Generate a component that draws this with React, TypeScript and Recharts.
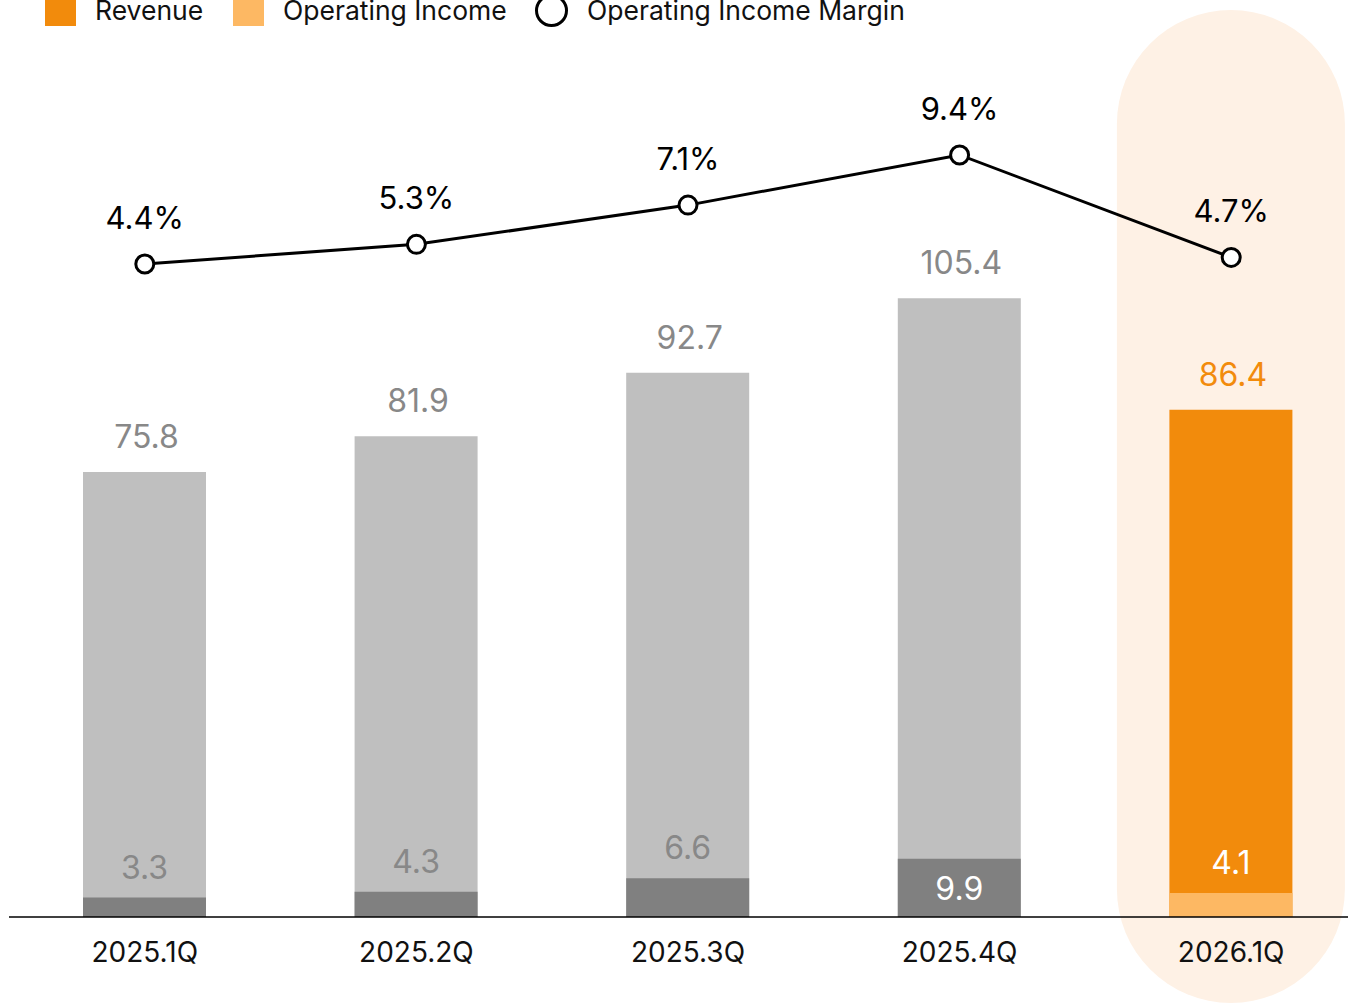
import React from 'react';
import { ComposedChart, Bar, Line, XAxis, YAxis, Cell, LabelList } from 'recharts';

const categories = ['2025.1Q', '2025.2Q', '2025.3Q', '2025.4Q', '2026.1Q'];
const revenue = [75.8, 81.9, 92.7, 105.4, 86.4];
const operatingIncome = [3.3, 4.3, 6.6, 9.9, 4.1];
const incomeMargin = [4.4, 5.3, 7.1, 9.4, 4.7];
const highlightIndex = 4;
const revenueMax = 140;
const marginDomain: [number, number] = [-25.55, 12.15];

const FONT = 'Inter, "Noto Sans", sans-serif';
const C_REV = '#BFBFBF';
const C_OI = '#808080';
const C_REV_HI = '#F28B0C';
const C_OI_HI = '#FDB863';
const C_BG_HI = '#FEF1E5';
const C_LABEL = '#888888';

const data = categories.map((c, i) => ({
  name: c,
  highlight: i === highlightIndex ? revenueMax : 0,
  revenue: revenue[i],
  oi: operatingIncome[i],
  margin: incomeMargin[i],
}));

const HighlightShape = (props: any) => {
  const { x, y, width, height, index } = props;
  if (index !== highlightIndex) return null;
  const w = 228;
  const cx = x + width / 2;
  return <rect x={cx - w / 2} y={y - 85} width={w} height={height + 85 + 86} rx={w / 2} ry={w / 2} fill={C_BG_HI} />;
};

const RevenueLabel = (props: any) => {
  const { x, y, width, value, index } = props;
  return (
    <text x={x + width / 2 + 2} y={y - 24} textAnchor="middle" fontSize={32} fontFamily={FONT}
      fill={index === highlightIndex ? C_REV_HI : C_LABEL}>
      {value}
    </text>
  );
};

const OiLabel = (props: any) => {
  const { x, y, width, value, index } = props;
  const inside = value > 8;
  const fill = inside || index === highlightIndex ? '#FFFFFF' : C_LABEL;
  return (
    <text x={x + width / 2} y={inside ? y + 41 : y - 19} textAnchor="middle" fontSize={32} fontFamily={FONT} fill={fill}>
      {value}
    </text>
  );
};

const MarginLabel = (props: any) => {
  const { x, y, value } = props;
  return (
    <text x={x} y={y - 35} textAnchor="middle" fontSize={31} fontFamily={FONT} fill="#000">
      {`${value}%`}
    </text>
  );
};

const Tick = (props: any) => {
  const { x, y, payload } = props;
  return (
    <text x={x} y={y + 37} textAnchor="middle" fontSize={28} fontFamily={FONT} fill="#111">
      {payload.value}
    </text>
  );
};

const legendItems = [
  { label: 'Revenue', kind: 'square', color: C_REV_HI, left: 45 },
  { label: 'Operating Income', kind: 'square', color: C_OI_HI, left: 233 },
  { label: 'Operating Income Margin', kind: 'circle', color: '#000', left: 535 },
];

const LegendBar = () => (
  <div style={{ position: 'absolute', left: 0, top: -5, height: 31, width: 1348, zIndex: 2 }}>
    {legendItems.map((it) => (
      <div key={it.label} style={{ position: 'absolute', left: it.left, top: 0, height: 31, display: 'flex', alignItems: 'center' }}>
        {it.kind === 'square' ? (
          <div style={{ width: 31, height: 31, background: it.color }} />
        ) : (
          <div style={{ width: 33, height: 33, border: '3px solid #000', borderRadius: '50%', background: '#fff', boxSizing: 'border-box' }} />
        )}
        <span style={{ marginLeft: 19, fontSize: 26.5, fontFamily: FONT, color: '#111', lineHeight: '31px', whiteSpace: 'nowrap' }}>
          {it.label}
        </span>
      </div>
    ))}
  </div>
);

export default function App() {
  return (
    <div style={{ position: 'fixed', left: 0, top: 0, width: 1348, height: 1005, overflow: 'hidden', background: '#fff' }}>
      <ComposedChart
        width={1370}
        height={1005}
        data={data}
        margin={{ top: 95, right: 3, bottom: 0, left: 9 }}
        barSize={123}
        barGap={-123}
      >
        <YAxis yAxisId="val" hide domain={[0, revenueMax]} type="number" />
        <YAxis yAxisId="pct" hide domain={marginDomain} type="number" allowDataOverflow />
        <Bar yAxisId="val" dataKey="highlight" isAnimationActive={false} shape={HighlightShape} />
        <Bar yAxisId="val" dataKey="revenue" isAnimationActive={false}>
          {data.map((d, i) => (
            <Cell key={d.name} fill={i === highlightIndex ? C_REV_HI : C_REV} />
          ))}
          <LabelList dataKey="revenue" content={RevenueLabel} />
        </Bar>
        <Bar yAxisId="val" dataKey="oi" isAnimationActive={false}>
          {data.map((d, i) => (
            <Cell key={d.name} fill={i === highlightIndex ? C_OI_HI : C_OI} />
          ))}
          <LabelList dataKey="oi" content={OiLabel} />
        </Bar>
        <Line
          yAxisId="pct"
          dataKey="margin"
          type="linear"
          stroke="#000"
          strokeWidth={3}
          dot={{ r: 9, fill: '#fff', stroke: '#000', strokeWidth: 3 }}
          activeDot={false}
          isAnimationActive={false}
        >
          <LabelList dataKey="margin" content={MarginLabel} />
        </Line>
        <XAxis
          dataKey="name"
          height={88}
          axisLine={{ stroke: '#000', strokeWidth: 1.5 }}
          tickLine={false}
          tick={Tick}
          interval={0}
        />
      </ComposedChart>
      <LegendBar />
    </div>
  );
}
